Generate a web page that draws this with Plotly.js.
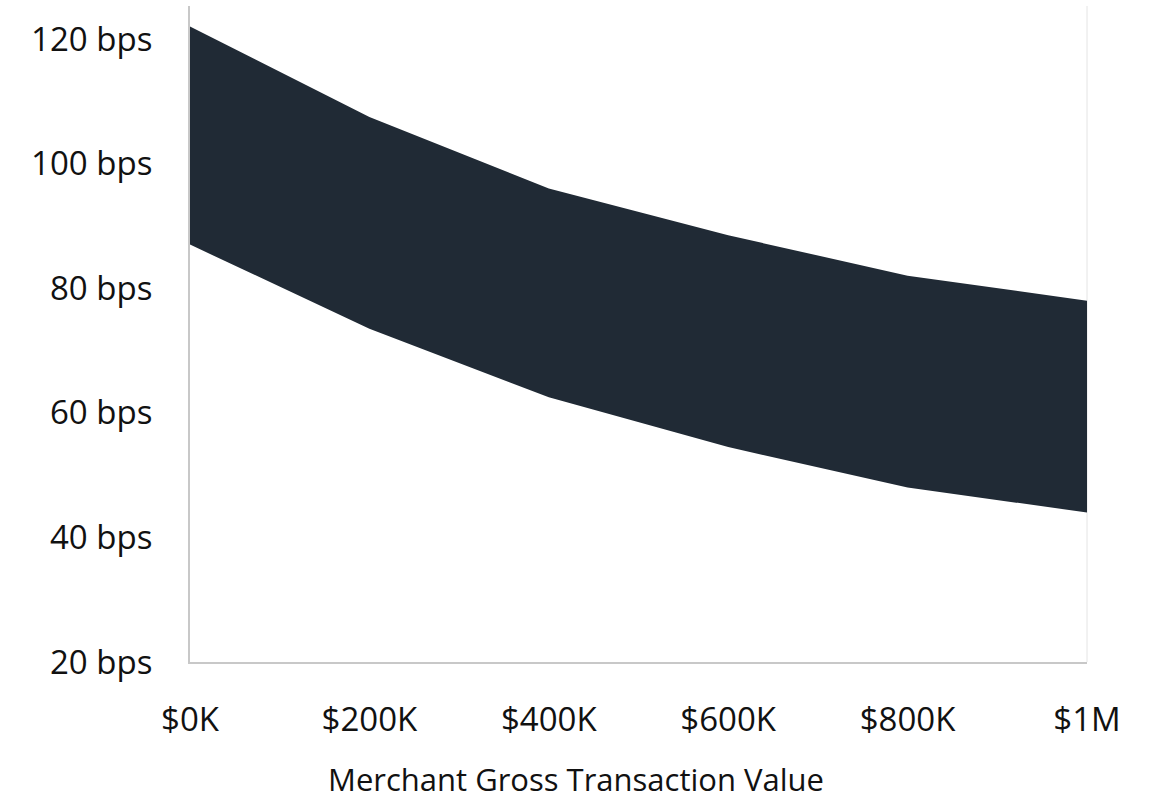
<!DOCTYPE html>
<html>
<head>
<meta charset="utf-8">
<script src="https://cdn.plot.ly/plotly-3.0.1.min.js"></script>
<style>
  html, body { margin: 0; padding: 0; background: #ffffff; }
  #chart { width: 1153px; height: 800px; }
</style>
</head>
<body>
<div id="chart"></div>
<script>
// Merchant gross transaction value (USD)
const gtv = [0, 200000, 400000, 600000, 800000, 1000000];
const gtvLabels = ['$0K', '$200K', '$400K', '$600K', '$800K', '$1M'];

// Fee range in basis points
const feeHigh = [122, 107.5, 96, 88.5, 82, 78];
const feeLow = [87, 73.5, 62.5, 54.5, 48, 44];

const bpsTicks = [20, 40, 60, 80, 100, 120];
const bpsLabels = ['20 bps', '40 bps', '60 bps', '80 bps', '100 bps', '120 bps'];

const xTitle = 'Merchant Gross Transaction Value';

const bandColor = '#202a35';
const fontFamily = '"Open Sans", "Noto Sans", sans-serif';

const traces = [
  {
    x: gtv, y: feeLow, type: 'scatter', mode: 'lines',
    line: { color: bandColor, width: 0 }, hoverinfo: 'skip', showlegend: false
  },
  {
    x: gtv, y: feeHigh, type: 'scatter', mode: 'lines',
    line: { color: bandColor, width: 0 }, fill: 'tonexty', fillcolor: bandColor,
    showlegend: false
  }
];

const layout = {
  width: 1153, height: 800,
  margin: { l: 190, r: 66, t: 6, b: 138 },
  paper_bgcolor: '#ffffff', plot_bgcolor: '#ffffff',
  font: { family: fontFamily, size: 33, color: '#111111' },
  showlegend: false,
  xaxis: {
    range: [0, 1000000], tickvals: gtv, ticktext: gtvLabels,
    showgrid: false, zeroline: false,
    showline: true, linecolor: '#c8c8c8', linewidth: 2,
    ticks: 'outside', ticklen: 27, tickcolor: 'rgba(0,0,0,0)',
    tickfont: { size: 33 },
    automargin: false
  },
  yaxis: {
    range: [20, 125.3], tickvals: bpsTicks, ticktext: bpsLabels,
    showgrid: false, zeroline: false,
    showline: true, linecolor: '#c8c8c8', linewidth: 2,
    ticks: 'outside', ticklen: 29, tickcolor: 'rgba(0,0,0,0)',
    tickfont: { size: 33 },
    automargin: false
  },
  // axis title, centred on the full figure width
  annotations: [
    { text: xTitle, xref: 'paper', yref: 'paper', x: 0.4303, y: -0.1784,
      xanchor: 'center', yanchor: 'middle', showarrow: false, borderpad: 0,
      font: { size: 31, color: '#111111' } }
  ],
  shapes: [
    { type: 'line', xref: 'paper', yref: 'paper', x0: 1, x1: 1, y0: 0, y1: 1,
      line: { color: '#e4e4e4', width: 1 }, layer: 'below' }
  ]
};

Plotly.newPlot('chart', traces, layout, { displayModeBar: false, staticPlot: true });
</script>
</body>
</html>
